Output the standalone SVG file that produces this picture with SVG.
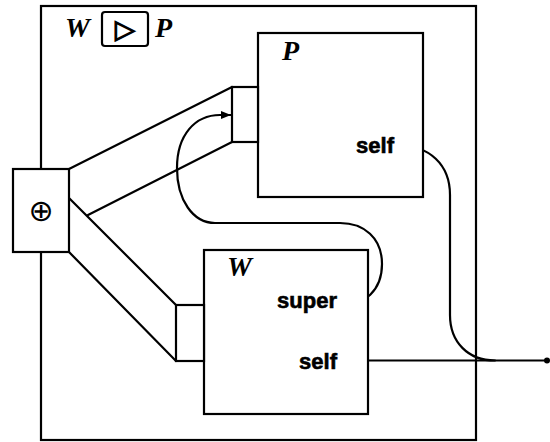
<svg xmlns="http://www.w3.org/2000/svg" width="550" height="442" viewBox="0 0 550 442">
<style>
.box{fill:#fff;stroke:#000;stroke-width:2.2}
.ln{fill:none;stroke:#000;stroke-width:2.2;stroke-linecap:round}
.lbl{font-family:"Liberation Serif",serif;font-style:italic;font-weight:bold;font-size:28px;fill:#000}
.port{font-family:"Liberation Sans",Arial,sans-serif;font-weight:bold;font-size:22px;fill:#000;stroke:#000;stroke-width:0.6}
.sym{font-family:"DejaVu Sans",sans-serif;fill:#000;stroke:#000}
</style>
<defs>
<marker id="arr" viewBox="0 0 10 8" refX="10" refY="4" markerWidth="10" markerHeight="8" markerUnits="userSpaceOnUse" orient="auto">
<path d="M0,0 L10,4 L0,8 Z" fill="#000"/>
</marker>
</defs>
<g id="outer">
<rect class="box" x="41" y="6" width="435" height="434"/>
<text class="lbl" x="65" y="37">W</text>
<rect class="box" x="102" y="12" width="46" height="34" rx="3"/>
<text class="sym" x="125" y="38" font-size="26" font-weight="bold" stroke-width="1.2" text-anchor="middle">▷</text>
<text class="lbl" x="155" y="37">P</text>
</g>
<g id="connectors">
<line class="ln" x1="69" y1="169" x2="232" y2="87"/>
<line class="ln" x1="88" y1="215" x2="232" y2="142"/>
<line class="ln" x1="69" y1="198" x2="176" y2="305"/>
<line class="ln" x1="69" y1="252" x2="176" y2="361"/>
<path class="ln" d="M396,145 C430,145 450,165 450,195 L450,315 C450,342 468,360.5 495,360.5 L547,360.5"/>
<line class="ln" x1="340" y1="360.5" x2="495" y2="360.5"/>
<circle cx="547" cy="360.5" r="3" fill="#000"/>
<path class="ln" d="M339,306 C365,306 382,290 382,264 C382,238 364,223 340,223 L215,223 C193,223 177,200 177,168 C177,135 195,115 220,115 L231,115" marker-end="url(#arr)"/>
</g>
<g id="plus">
<rect class="box" x="13" y="169" width="56" height="83"/>
<text class="sym" x="41" y="221" font-size="30" stroke-width="0" text-anchor="middle">⊕</text>
</g>
<g id="P">
<rect class="box" x="258" y="33" width="165" height="164"/>
<rect class="box" x="232" y="87" width="26" height="55"/>
<text class="lbl" x="282" y="60">P</text>
<text class="port" x="394" y="153" text-anchor="end">self</text>
</g>
<g id="W">
<rect class="box" x="204" y="250" width="164" height="164"/>
<rect class="box" x="176" y="305" width="28" height="56"/>
<text class="lbl" x="227" y="276">W</text>
<text class="port" x="337" y="308" text-anchor="end">super</text>
<text class="port" x="337" y="369" text-anchor="end">self</text>
</g>
</svg>
